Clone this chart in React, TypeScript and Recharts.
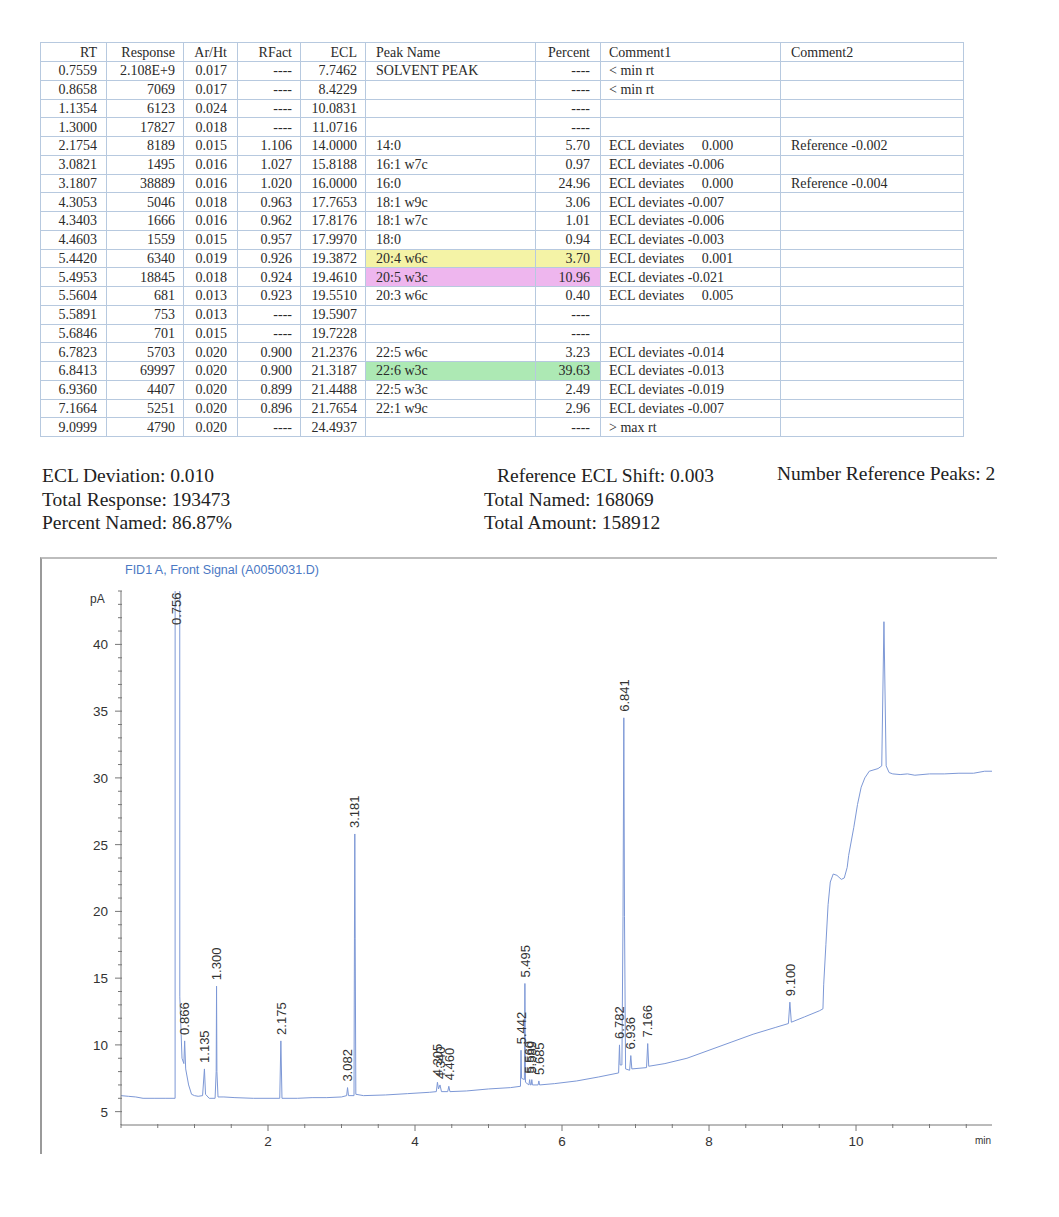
import { ComposedChart, Line, Scatter, XAxis, YAxis } from 'recharts';

// ---- peak report table ----
const rtValues = ['0.7559', '0.8658', '1.1354', '1.3000', '2.1754', '3.0821', '3.1807', '4.3053', '4.3403', '4.4603', '5.4420', '5.4953', '5.5604', '5.5891', '5.6846', '6.7823', '6.8413', '6.9360', '7.1664', '9.0999'];
const responses = ['2.108E+9', '7069', '6123', '17827', '8189', '1495', '38889', '5046', '1666', '1559', '6340', '18845', '681', '753', '701', '5703', '69997', '4407', '5251', '4790'];
const arHt = ['0.017', '0.017', '0.024', '0.018', '0.015', '0.016', '0.016', '0.018', '0.016', '0.015', '0.019', '0.018', '0.013', '0.013', '0.015', '0.020', '0.020', '0.020', '0.020', '0.020'];
const rFact = ['----', '----', '----', '----', '1.106', '1.027', '1.020', '0.963', '0.962', '0.957', '0.926', '0.924', '0.923', '----', '----', '0.900', '0.900', '0.899', '0.896', '----'];
const eclValues = ['7.7462', '8.4229', '10.0831', '11.0716', '14.0000', '15.8188', '16.0000', '17.7653', '17.8176', '17.9970', '19.3872', '19.4610', '19.5510', '19.5907', '19.7228', '21.2376', '21.3187', '21.4488', '21.7654', '24.4937'];
const peakNames = ['SOLVENT PEAK', '', '', '', '14:0', '16:1 w7c', '16:0', '18:1 w9c', '18:1 w7c', '18:0', '20:4 w6c', '20:5 w3c', '20:3 w6c', '', '', '22:5 w6c', '22:6 w3c', '22:5 w3c', '22:1 w9c', ''];
const percents = ['----', '----', '----', '----', '5.70', '0.97', '24.96', '3.06', '1.01', '0.94', '3.70', '10.96', '0.40', '----', '----', '3.23', '39.63', '2.49', '2.96', '----'];
const comment1 = [
  '< min rt', '< min rt', '', '',
  'ECL deviates     0.000', 'ECL deviates -0.006', 'ECL deviates     0.000', 'ECL deviates -0.007',
  'ECL deviates -0.006', 'ECL deviates -0.003', 'ECL deviates     0.001', 'ECL deviates -0.021',
  'ECL deviates     0.005', '', '', 'ECL deviates -0.014', 'ECL deviates -0.013',
  'ECL deviates -0.019', 'ECL deviates -0.007', '> max rt',
];
const comment2 = ['', '', '', '', 'Reference -0.002', '', 'Reference -0.004', '', '', '', '', '', '', '', '', '', '', '', '', ''];
const highlight: Record<number, string> = { 10: '#f4f3a6', 11: '#eeb6ee', 16: '#ade9b4' };

const headers = ['RT', 'Response', 'Ar/Ht', 'RFact', 'ECL', 'Peak Name', 'Percent', 'Comment1', 'Comment2'];
const colWidths = [66, 77, 54, 63, 65, 170, 65, 180, 183];
const colAlign: ('left' | 'right')[] = ['right', 'right', 'right', 'right', 'right', 'left', 'right', 'left', 'left'];
const colPad = ['0 9px 0 0', '0 8px 0 0', '0 10px 0 0', '0 8px 0 0', '0 8px 0 0', '0 0 0 10px', '0 10px 0 0', '0 0 0 8px', '0 0 0 10px'];

// ---- summary ----
const summaryLeft = ['ECL Deviation: 0.010', 'Total Response: 193473', 'Percent Named: 86.87%'];
const summaryMid = ['Reference ECL Shift: 0.003', 'Total Named: 168069', 'Total Amount: 158912'];
const summaryRight = 'Number Reference Peaks: 2';

// ---- chromatogram (time in min, signal in pA) ----
const signal: [number, number][] = [
  [0.0, 6.2], [0.1, 6.15], [0.2, 6.1], [0.3, 6.0], [0.45, 6.0], [0.6, 6.0], [0.736, 6.0],
  [0.756, 2000], [0.8, 13.6], [0.83, 9.0], [0.855, 8.6], [0.866, 10.3], [0.88, 8.2], [0.92, 7.0],
  [0.96, 6.3], [1.0, 6.2], [1.05, 6.15], [1.11, 6.2], [1.135, 8.2], [1.15, 6.3], [1.2, 6.0],
  [1.28, 6.0], [1.295, 8.0], [1.3, 14.4], [1.305, 8.0], [1.32, 6.1], [1.4, 6.1], [1.55, 6.05],
  [1.8, 6.0], [2.0, 6.0], [2.16, 6.0], [2.175, 10.3], [2.19, 6.0], [2.4, 6.0], [2.6, 6.05],
  [2.8, 6.05], [3.0, 6.1], [3.07, 6.2], [3.082, 6.8], [3.095, 6.2], [3.17, 6.2], [3.176, 18.0],
  [3.181, 25.8], [3.186, 18.0], [3.195, 6.3], [3.3, 6.2], [3.6, 6.25], [3.9, 6.35], [4.2, 6.45],
  [4.29, 6.5], [4.305, 7.2], [4.32, 6.7], [4.34, 7.0], [4.36, 6.5], [4.445, 6.5], [4.46, 6.9],
  [4.475, 6.5], [4.7, 6.55], [5.0, 6.7], [5.3, 6.8], [5.435, 6.9], [5.442, 9.6], [5.45, 7.5],
  [5.488, 7.4], [5.495, 14.6], [5.503, 7.2], [5.55, 7.0], [5.56, 7.4], [5.57, 7.0], [5.58, 7.0],
  [5.589, 7.4], [5.598, 7.0], [5.675, 7.0], [5.685, 7.3], [5.695, 7.0], [5.9, 7.1], [6.2, 7.3],
  [6.5, 7.6], [6.77, 7.9], [6.782, 10.0], [6.79, 8.5], [6.815, 8.5], [6.83, 19.6], [6.841, 34.5],
  [6.85, 19.6], [6.865, 8.2], [6.92, 8.1], [6.936, 9.2], [6.95, 8.2], [7.15, 8.3], [7.166, 10.1],
  [7.18, 8.4], [7.4, 8.6], [7.7, 9.0], [8.0, 9.6], [8.3, 10.2], [8.6, 10.8], [8.9, 11.3],
  [9.08, 11.6], [9.1, 13.2], [9.12, 11.7], [9.3, 12.1], [9.5, 12.55], [9.55, 12.7], [9.56, 14.5],
  [9.59, 17.5], [9.62, 20.5], [9.65, 22.2], [9.69, 22.8], [9.74, 22.7], [9.8, 22.4], [9.84, 22.5],
  [9.88, 23.3], [9.9, 24.2], [9.97, 26.3], [10.02, 28.0], [10.07, 29.3], [10.12, 30.0], [10.18, 30.5],
  [10.3, 30.7], [10.35, 30.9], [10.38, 41.7], [10.41, 30.9], [10.45, 30.4], [10.5, 30.3], [10.6, 30.25],
  [10.7, 30.3], [10.8, 30.2], [11.0, 30.3], [11.2, 30.3], [11.4, 30.35], [11.6, 30.35], [11.75, 30.5],
  [11.85, 30.5],
];
const peakTimes = [0.756, 0.866, 1.135, 1.3, 2.175, 3.082, 3.181, 4.305, 4.34, 4.46, 5.442, 5.495, 5.56, 5.589, 5.685, 6.782, 6.841, 6.936, 7.166, 9.1];
const peakHeights = [2000, 10.3, 8.2, 14.4, 10.3, 6.8, 25.8, 7.2, 7.0, 6.9, 9.6, 14.6, 7.4, 7.4, 7.3, 10.0, 34.5, 9.2, 10.1, 13.2];

const xTicks = Array.from({ length: 24 }, (_, i) => i * 0.5);
const yTicks = Array.from({ length: 40 }, (_, i) => i + 5);

const traceData = signal.map(([t, v]) => ({ t, v }));
const peakData = peakTimes.map((t, i) => ({ t, v: peakHeights[i], label: t.toFixed(3) }));

const MARGIN = { top: 36, right: 8, bottom: 0, left: 0 };
const AXIS_FONT = "'Liberation Sans', Arial, sans-serif";
const SERIF = "'Liberation Serif', 'Times New Roman', serif";

const XTick = (props: any) => {
  const { x, y, payload } = props;
  const v = payload.value;
  const major = v > 0 && v % 2 === 0;
  return (
    <g>
      <line x1={x} x2={x} y1={y - (major ? 0 : 1)} y2={y + (major ? 6 : 3)} stroke="#777" />
      {major && (
        <text x={x} y={y + 21} textAnchor="middle" fontSize={13.5} fill="#333" fontFamily={AXIS_FONT}>
          {v}
        </text>
      )}
    </g>
  );
};

const YTick = (props: any) => {
  const { x, y, payload } = props;
  const v = payload.value;
  const major = v % 5 === 0;
  return (
    <g>
      <line x1={x - (major ? 6 : 3)} x2={x + 1} y1={y} y2={y} stroke="#777" />
      {major && (
        <text x={x - 13} y={y + 5} textAnchor="end" fontSize={13.5} fill="#333" fontFamily={AXIS_FONT}>
          {v}
        </text>
      )}
    </g>
  );
};

const PeakLabel = (props: any) => {
  const { cx, cy, payload } = props;
  const len = 34;
  let bottom = cy - 6;
  if (bottom - len < MARGIN.top) bottom = MARGIN.top + len;
  return (
    <text
      transform={`translate(${cx},${bottom}) rotate(-90)`}
      dy="0.36em"
      fontSize={13}
      fill="#333"
      fontFamily={AXIS_FONT}
    >
      {payload.label}
    </text>
  );
};

function Chromatogram() {
  return (
    <ComposedChart width={960} height={600} margin={MARGIN}>
      <XAxis
        type="number"
        dataKey="t"
        domain={[0, 11.85]}
        allowDataOverflow
        ticks={xTicks}
        interval={0}
        tick={<XTick />}
        tickSize={0}
        tickMargin={0}
        tickLine={false}
        height={30}
        stroke="#777"
      />
      <YAxis
        type="number"
        domain={[4, 44]}
        allowDataOverflow
        ticks={yTicks}
        interval={0}
        tick={<YTick />}
        tickSize={0}
        tickMargin={0}
        tickLine={false}
        width={81}
        stroke="#777"
      />
      <Line
        data={traceData}
        dataKey="v"
        type="linear"
        stroke="#7d98d6"
        strokeWidth={1}
        dot={false}
        isAnimationActive={false}
      />
      <Scatter data={peakData} dataKey="v" shape={<PeakLabel />} isAnimationActive={false} />
    </ComposedChart>
  );
}

export default function App() {
  const cell = (c: number) => ({
    width: colWidths[c],
    boxSizing: 'border-box' as const,
    textAlign: colAlign[c],
    padding: colPad[c],
    border: '1px solid #b7c9df',
    whiteSpace: 'pre' as const,
    overflow: 'hidden',
  });
  const rows = rtValues.map((rt, i) => [rt, responses[i], arHt[i], rFact[i], eclValues[i], peakNames[i], percents[i], comment1[i], comment2[i]]);

  return (
    <div style={{ position: 'absolute', left: 0, top: 0, width: 1059, height: 1217, background: '#fff', color: '#222' }}>
      <table
        style={{
          position: 'absolute',
          left: 40,
          top: 42,
          width: 923,
          borderCollapse: 'collapse',
          tableLayout: 'fixed',
          fontFamily: SERIF,
          fontSize: 14,
          lineHeight: '17px',
          color: '#2a2a2a',
        }}
      >
        <colgroup>
          {colWidths.map((w, c) => <col key={c} style={{ width: w }} />)}
        </colgroup>
        <thead>
          <tr style={{ height: 19 }}>
            {headers.map((h, c) => (
              <td key={h} style={cell(c)}>{h}</td>
            ))}
          </tr>
        </thead>
        <tbody>
          {rows.map((r, i) => (
            <tr key={i} style={{ height: 18.75 }}>
              {r.map((v, c) => (
                <td
                  key={c}
                  style={{ ...cell(c), background: highlight[i] && (c === 5 || c === 6) ? highlight[i] : undefined }}
                >
                  {v}
                </td>
              ))}
            </tr>
          ))}
        </tbody>
      </table>

      <div style={{ position: 'absolute', left: 42, top: 464, fontFamily: SERIF, fontSize: 19.5, lineHeight: '23.7px' }}>
        {summaryLeft.map((s) => <div key={s}>{s}</div>)}
      </div>
      <div style={{ position: 'absolute', left: 484, top: 464, fontFamily: SERIF, fontSize: 19.5, lineHeight: '23.7px' }}>
        {summaryMid.map((s, i) => <div key={s} style={{ paddingLeft: i === 0 ? 13 : 0 }}>{s}</div>)}
      </div>
      <div style={{ position: 'absolute', left: 777, top: 462, fontFamily: SERIF, fontSize: 19.5, lineHeight: '23.7px' }}>
        {summaryRight}
      </div>

      <div style={{ position: 'absolute', left: 40, top: 557, width: 955, height: 595, borderTop: '2px solid #bdbdbd', borderLeft: '2px solid #9a9a9a' }} />
      <div style={{ position: 'absolute', left: 125, top: 563, fontFamily: AXIS_FONT, fontSize: 12.5, color: '#4a78c4' }}>
        FID1 A, Front Signal (A0050031.D)
      </div>
      <div style={{ position: 'absolute', left: 90, top: 592, fontFamily: AXIS_FONT, fontSize: 12, color: '#333' }}>pA</div>
      <div style={{ position: 'absolute', left: 975, top: 1135, fontFamily: AXIS_FONT, fontSize: 10, color: '#333' }}>min</div>

      <div style={{ position: 'absolute', left: 40, top: 555 }}>
        <Chromatogram />
      </div>
    </div>
  );
}
